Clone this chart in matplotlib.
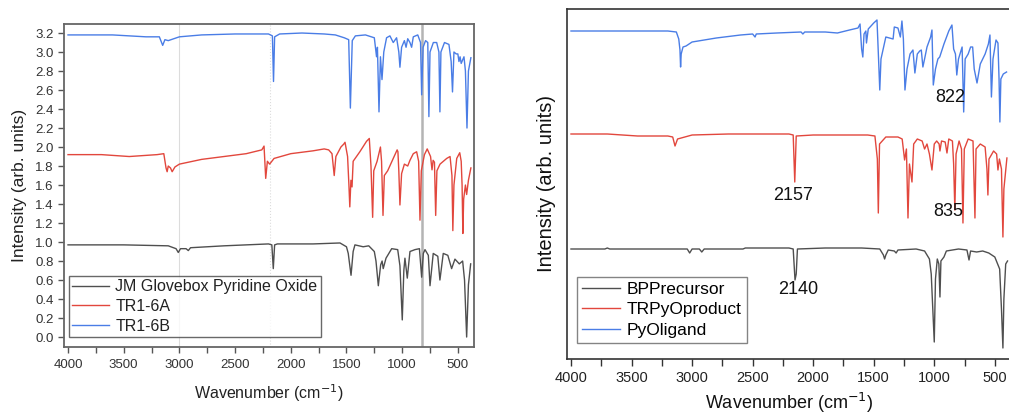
import matplotlib
matplotlib.use('Agg')
import matplotlib.pyplot as plt
from matplotlib.ticker import MultipleLocator

plt.rcParams['font.family'] = ['Liberation Sans', 'DejaVu Sans']

# ---- left panel: JM glovebox comparison ----
jm_wn = [4000, 3500, 3100, 3030, 3010, 2990, 2940, 2920, 2900, 2600, 2200, 2170, 2157, 2145, 2120,
         1800, 1558, 1500, 1484, 1459, 1440, 1424, 1350, 1300, 1250, 1235, 1214, 1193, 1180, 1170,
         1145, 1094, 1040, 1020, 999, 985, 975, 954, 930, 885, 845, 825, 810, 795, 765, 750, 721,
         680, 661, 631, 590, 556, 526, 487, 457, 440, 421, 405, 385]
jm_int = [0.97, 0.97, 0.96, 0.93, 0.89, 0.93, 0.93, 0.91, 0.94, 0.96, 0.98, 0.97, 0.72, 0.97, 0.98,
          0.98, 0.99, 0.95, 0.88, 0.65, 0.90, 0.97, 0.95, 0.96, 0.90, 0.80, 0.54, 0.76, 0.80, 0.72,
          0.83, 0.93, 0.92, 0.75, 0.18, 0.70, 0.83, 0.62, 0.90, 0.92, 0.93, 0.63, 0.88, 0.92, 0.86,
          0.54, 0.88, 0.85, 0.60, 0.88, 0.86, 0.72, 0.82, 0.77, 0.80, 0.60, 0.0, 0.55, 0.77]

tr6a_wn = [4000, 3700, 3450, 3200, 3140, 3120, 3110, 3100, 3080, 3065, 3040, 3000, 2800, 2600,
           2400, 2260, 2240, 2225, 2210, 2190, 2150, 2000, 1800, 1700, 1660, 1630, 1610, 1595,
           1550, 1525, 1513, 1490, 1478, 1470, 1460, 1450, 1440, 1380, 1320, 1295, 1280, 1265,
           1255, 1225, 1205, 1195, 1185, 1172, 1160, 1130, 1080, 1045, 1038, 1030, 1020, 1005,
           980, 950, 930, 900, 870, 852, 840, 828, 800, 775, 745, 732, 722, 710, 699, 688, 660,
           630, 600, 570, 553, 545, 535, 510, 483, 470, 462, 455, 448, 432, 421, 405, 383]
tr6a_int = [1.92, 1.92, 1.90, 1.92, 1.93, 1.78, 1.74, 1.80, 1.78, 1.74, 1.79, 1.82, 1.87, 1.90,
            1.93, 1.97, 2.01, 1.67, 1.85, 1.82, 1.88, 1.93, 1.96, 1.98, 1.97, 1.93, 1.70, 1.90,
            2.00, 2.03, 2.05, 1.90, 1.60, 1.37, 1.65, 1.58, 1.85, 1.95, 2.06, 2.09, 1.80, 1.26,
            1.75, 1.85, 1.95, 2.00, 1.85, 1.28, 1.70, 1.75, 1.88, 1.97, 1.95, 1.75, 1.39, 1.72,
            1.82, 1.80, 1.86, 1.93, 1.95, 1.85, 1.23, 1.75, 1.92, 1.98, 1.90, 1.76, 1.86, 1.84,
            1.28, 1.75, 1.82, 1.85, 1.88, 1.90, 1.70, 1.12, 1.60, 1.88, 1.94, 1.85, 1.60, 1.09,
            1.45, 1.60, 1.50, 1.65, 1.78]

tr6b_wn = [4000, 3600, 3300, 3180, 3150, 3130, 3100, 3000, 2800, 2500, 2200, 2165, 2155, 2145,
           2100, 1900, 1700, 1600, 1520, 1480, 1465, 1448, 1420, 1330, 1250, 1230, 1222, 1208,
           1195, 1181, 1165, 1140, 1110, 1080, 1050, 1030, 1020, 1005, 980, 965, 950, 930, 915,
           900, 860, 835, 825, 812, 790, 770, 760, 750, 720, 690, 670, 661, 652, 620, 580, 560,
           548, 535, 515, 500, 490, 480, 470, 445, 432, 418, 405, 383]
tr6b_int = [3.18, 3.18, 3.16, 3.16, 3.07, 3.13, 3.12, 3.16, 3.18, 3.19, 3.19, 3.17, 2.69, 3.16,
            3.19, 3.20, 3.19, 3.18, 3.15, 3.13, 2.41, 3.12, 3.17, 3.18, 3.15, 2.95, 3.05, 2.37,
            2.95, 2.71, 3.00, 3.15, 3.17, 3.10, 3.15, 3.00, 2.84, 3.05, 3.12, 3.05, 3.14, 3.10, 3.05,
            3.16, 3.18, 3.10, 2.55, 3.05, 3.12, 3.10, 2.32, 3.00, 3.10, 3.10, 3.00, 2.37, 3.00,
            3.10, 3.08, 2.90, 2.58, 3.00, 2.98, 2.98, 2.90, 2.95, 2.88, 2.95, 2.80, 2.20, 2.80, 2.94]

ref_lines = [3000, 2190, 822]

# ---- right panel: BP precursor / product / ligand ----
bp_wn = [4000, 3720, 3700, 3680, 3100, 3040, 3020, 3000, 2940, 2920, 2900, 2580, 2560, 2200, 2165,
         2150, 2140, 2130, 1900, 1600, 1450, 1420, 1410, 1400, 1380, 1330, 1315, 1300, 1150, 1080,
         1040, 1025, 1000, 990, 975, 962, 953, 945, 920, 900, 800, 730, 713, 700, 650, 600, 550,
         500, 460, 445, 433, 425, 410, 395]
bp_int = [1.10, 1.10, 1.11, 1.10, 1.10, 1.10, 1.06, 1.10, 1.10, 1.07, 1.10, 1.10, 1.11, 1.11, 1.10,
          0.79, 0.85, 1.10, 1.11, 1.11, 1.10, 1.04, 1.00, 1.04, 1.09, 1.08, 1.06, 1.09, 1.10, 1.08,
          1.00, 0.85, 0.17, 0.80, 1.00, 0.95, 0.62, 0.98, 1.02, 1.08, 1.10, 1.09, 0.99, 1.08, 1.07,
          1.08, 1.06, 1.02, 0.90, 0.50, 0.11, 0.60, 0.95, 0.98]

trpy_wn = [4000, 3700, 3450, 3200, 3160, 3141, 3120, 3000, 2700, 2400, 2200, 2165, 2152, 2140,
           2000, 1700, 1550, 1490, 1470, 1462, 1452, 1400, 1300, 1265, 1245, 1230, 1217, 1205,
           1184, 1170, 1140, 1100, 1080, 1060, 1040, 1019, 1000, 980, 960, 953, 940, 910, 895,
           880, 850, 840, 830, 820, 795, 775, 763, 752, 720, 680, 664, 655, 620, 580, 565, 557,
           548, 510, 485, 474, 462, 445, 433, 425, 400]
trpy_int = [2.25, 2.25, 2.23, 2.23, 2.22, 2.13, 2.20, 2.24, 2.25, 2.25, 2.25, 2.24, 1.77, 2.23,
            2.24, 2.24, 2.24, 2.23, 2.00, 1.46, 2.15, 2.22, 2.22, 2.20, 1.99, 2.10, 1.41, 1.95,
            1.77, 2.15, 2.20, 2.18, 2.10, 2.15, 2.05, 1.89, 2.15, 2.18, 2.15, 2.08, 2.18, 2.17, 2.06,
            2.20, 2.18, 1.95, 1.49, 2.05, 2.18, 2.10, 1.36, 2.10, 2.20, 2.18, 1.41, 2.10, 2.15,
            2.12, 1.90, 1.64, 2.00, 2.08, 2.05, 1.89, 2.00, 1.90, 1.22, 1.70, 2.01]

pyo_wn = [4000, 3800, 3500, 3200, 3130, 3110, 3100, 3095, 3090, 3075, 3050, 3000, 2800, 2600,
          2500, 2480, 2470, 2300, 2100, 2085, 2070, 1900, 1800, 1700, 1630, 1613, 1600, 1590,
          1580, 1565, 1560, 1545, 1500, 1473, 1460, 1450, 1440, 1400, 1340, 1330, 1300, 1280,
          1267, 1255, 1242, 1225, 1200, 1176, 1160, 1140, 1120, 1107, 1094, 1080, 1060, 1030,
          1019, 1008, 990, 970, 955, 920, 880, 854, 840, 825, 814, 800, 770, 757, 745, 720, 700,
          683, 670, 647, 620, 580, 553, 540, 528, 515, 490, 474, 465, 458, 450, 430, 403]
pyo_int = [3.28, 3.28, 3.28, 3.28, 3.27, 3.20, 3.09, 2.92, 3.05, 3.12, 3.13, 3.17, 3.21, 3.24,
           3.25, 3.22, 3.25, 3.26, 3.27, 3.25, 3.27, 3.27, 3.26, 3.29, 3.31, 3.35, 3.10, 3.02,
           3.25, 3.28, 3.16, 3.30, 3.36, 3.39, 3.00, 2.69, 3.00, 3.22, 3.20, 3.32, 3.31, 3.22,
           3.38, 3.20, 2.69, 2.90, 3.05, 3.09, 2.86, 3.05, 3.08, 3.09, 2.92, 3.00, 3.12, 3.22,
           3.29, 2.74, 2.90, 3.00, 3.02, 3.15, 3.28, 3.34, 3.10, 3.05, 2.84, 3.00, 3.12, 2.47,
           3.00, 3.05, 3.12, 3.12, 2.90, 2.76, 2.95, 3.05, 3.15, 3.24, 2.62, 3.00, 3.19, 3.16,
           2.80, 2.37, 2.80, 2.85, 2.87]

peak_labels = ['822', '2157', '835', '2140']
peak_wn = [870, 2167, 887, 2125]
peak_y = [2.61, 1.64, 1.47, 0.69]

c_gray = '#4f4f4f'
c_red = '#e2473d'
c_blue = '#4a7de6'

fig = plt.figure(figsize=(10.09, 4.16), dpi=100)
W, H = 1009, 416

# left axes
ax1 = fig.add_axes([64 / W, 1 - 347 / H, 410 / W, 323 / H])
for x in ref_lines[:2]:
    ax1.axvline(x, color='#dcdcdc', lw=0.8, ls='-' if x == 3000 else ':', zorder=0)
ax1.axvline(ref_lines[2], color='#b4b4b4', lw=1.8, zorder=0)
ax1.plot(jm_wn, jm_int, color=c_gray, lw=1.0, label='JM Glovebox Pyridine Oxide')
ax1.plot(tr6a_wn, tr6a_int, color=c_red, lw=1.0, label='TR1-6A')
ax1.plot(tr6b_wn, tr6b_int, color=c_blue, lw=1.0, label='TR1-6B')
ax1.set_xlim(4036, 355)
ax1.set_ylim(-0.105, 3.295)
ax1.xaxis.set_major_locator(MultipleLocator(500))
ax1.xaxis.set_minor_locator(MultipleLocator(250))
ax1.yaxis.set_major_locator(MultipleLocator(0.2))
ax1.yaxis.set_major_formatter(plt.FormatStrFormatter('%.1f'))
ax1.tick_params(axis='both', which='both', direction='out', length=4, width=1,
                color='#555555', labelsize=9.5, labelcolor='#333333')
ax1.tick_params(axis='x', pad=5)
for s in ax1.spines.values():
    s.set_color('#666666')
    s.set_linewidth(1.3)
ax1.set_xlabel('Wavenumber (cm$^{-1}$)', fontsize=11.5, color='#222222', labelpad=8)
ax1.set_ylabel('Intensity (arb. units)', fontsize=12.5, color='#222222', labelpad=6)
leg1 = ax1.legend(loc='lower left', bbox_to_anchor=(0.012, 0.031), borderaxespad=0,
                  fontsize=11.5, frameon=True, fancybox=False, handlelength=2.3,
                  handletextpad=0.4, labelspacing=0.3, borderpad=0.2)
leg1.get_frame().set_edgecolor('#444444')
leg1.get_frame().set_linewidth(1.0)
for t in leg1.get_texts():
    t.set_color('#222222')

# right axes
ax2 = fig.add_axes([567 / W, 1 - 359 / H, 445 / W, 350 / H])
ax2.plot(bp_wn, bp_int, color=c_gray, lw=1.0, label='BPPrecursor')
ax2.plot(trpy_wn, trpy_int, color=c_red, lw=1.0, label='TRPyOproduct')
ax2.plot(pyo_wn, pyo_int, color=c_blue, lw=1.0, label='PyOligand')
for lab, x, y in zip(peak_labels, peak_wn, peak_y):
    ax2.text(x, y, lab, fontsize=13, ha='center', va='center', color='#111111')
ax2.set_xlim(4033, 358)
ax2.set_ylim(0, 3.5)
ax2.set_yticks([])
ax2.xaxis.set_major_locator(MultipleLocator(500))
ax2.xaxis.set_minor_locator(MultipleLocator(250))
ax2.tick_params(axis='x', which='both', direction='out', length=5, width=1,
                color='#333333', labelsize=10.5, labelcolor='#222222', pad=4)
ax2.spines['right'].set_visible(False)
for k in ['left', 'top', 'bottom']:
    ax2.spines[k].set_color('#333333')
    ax2.spines[k].set_linewidth(1.2)
ax2.set_xlabel('Wavenumber (cm$^{-1}$)', fontsize=13, color='#111111', labelpad=4)
ax2.set_ylabel('Intensity (arb. units)', fontsize=14.5, color='#111111', labelpad=8)
leg2 = ax2.legend(loc='lower left', bbox_to_anchor=(0.0225, 0.046), borderaxespad=0,
                  fontsize=12.5, frameon=True, fancybox=False, handlelength=2.2,
                  handletextpad=0.35, labelspacing=0.3, borderpad=0.3)
leg2.get_frame().set_edgecolor('#666666')
leg2.get_frame().set_linewidth(1.0)

fig.savefig('out.png', dpi=100)
